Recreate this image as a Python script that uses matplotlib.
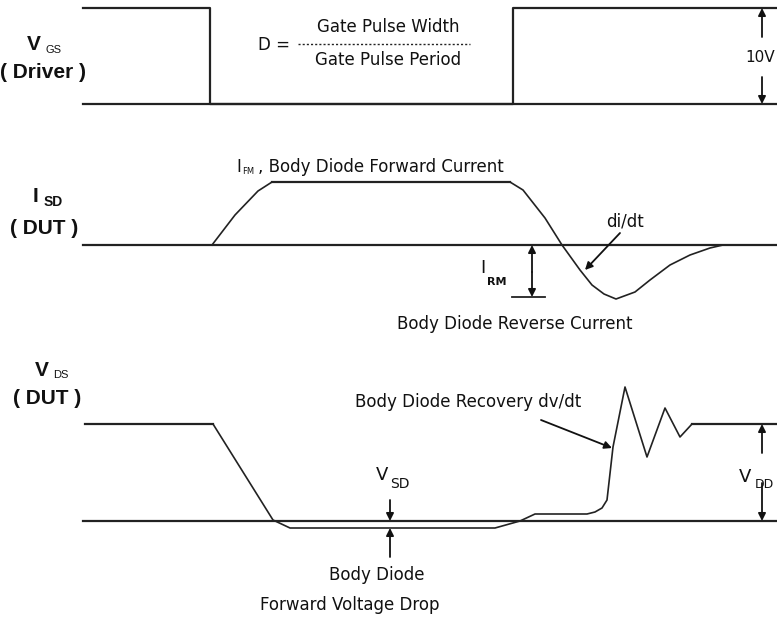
import matplotlib
matplotlib.use("Agg")
import matplotlib.pyplot as plt

# waveform vertices, time in px across, level in px down
vgs_t = [83, 210, 210, 513, 513, 777]
vgs_v = [8, 8, 104, 104, 8, 8]

isd_t = [212, 235, 258, 272, 510, 523, 545, 562, 580, 592, 604, 616, 635, 650, 670, 690, 710, 723]
isd_v = [245, 215, 191, 182, 182, 190, 218, 245, 270, 285, 294, 299, 292, 280, 265, 255, 248, 245]

vds_t = [85, 213, 273, 290, 495, 520, 535, 587, 595, 602, 607, 613, 625, 647, 665, 680, 692, 777]
vds_v = [424, 424, 520, 528, 528, 521, 514, 514, 512, 508, 500, 447, 387, 457, 408, 437, 424, 424]

base_y = [104, 245, 521]
base_x0 = 83
base_x1 = 777

fig = plt.figure(figsize=(7.77, 6.18), dpi=100)
ax = fig.add_axes([0, 0, 1, 1])
ax.set_xlim(0, 777)
ax.set_ylim(618, 0)
ax.axis('off')

for y in base_y:
    ax.plot([base_x0, base_x1], [y, y], color='#222222', lw=1.6)

ax.plot(vgs_t, vgs_v, color='#222222', lw=1.6)
ax.plot(isd_t, isd_v, color='#222222', lw=1.2)
ax.plot(isd_t[3:5], isd_v[3:5], color='#222222', lw=1.6)
ax.plot(vds_t, vds_v, color='#222222', lw=1.2)
ax.plot(vds_t[:2], vds_v[:2], color='#222222', lw=1.6)
ax.plot(vds_t[-2:], vds_v[-2:], color='#222222', lw=1.6)

def arrow(x0, y0, x1, y1):
    ax.annotate('', xy=(x1, y1), xytext=(x0, y0),
                arrowprops=dict(arrowstyle='-|>', color='#111111', lw=1.3,
                                mutation_scale=11, shrinkA=0, shrinkB=0))

fs = 12
bf = dict(fontsize=15, fontweight='bold', family='Liberation Sans', color='#111111')
sf = dict(fontsize=8, family='Liberation Sans', color='#111111')
tf = dict(fontsize=fs, family='DejaVu Sans', color='#111111')

# left side labels
ax.text(27, 45, 'V', ha='left', va='center', **bf)
ax.text(45, 50, 'GS', ha='left', va='center', **sf)
ax.text(0, 72, '( Driver )', ha='left', va='center', **bf)

ax.text(33, 196, 'I', ha='left', va='center', **bf)
ax.text(44, 202, 'SD', ha='left', va='center', fontsize=10, fontweight='bold',
        family='Liberation Sans', color='#111111')
ax.text(10, 229, '( DUT )', ha='left', va='center', **bf)

ax.text(35, 371, 'V', ha='left', va='center', **bf)
ax.text(53, 375, 'DS', ha='left', va='center', **sf)
ax.text(13, 398, '( DUT )', ha='left', va='center', **bf)

# duty cycle formula
ax.text(258, 45, 'D =', ha='left', va='center', **tf)
ax.text(388, 27, 'Gate Pulse Width', ha='center', va='center', **tf)
ax.plot([298, 470], [44, 44], color='#222222', lw=1.0, ls=(0, (1.5, 1.5)))
ax.text(388, 60, 'Gate Pulse Period', ha='center', va='center', **tf)

# 10V
arrow(762, 37, 762, 8)
arrow(762, 77, 762, 104)
ax.text(745, 58, '10V', ha='left', va='center', fontsize=11, family='DejaVu Sans',
        color='#111111', bbox=dict(facecolor='white', edgecolor='none', pad=0.5))

# ISD annotations
ax.text(236, 167, 'I', ha='left', va='center', **tf)
ax.text(242, 171, 'FM', ha='left', va='center', fontsize=6, color='#111111')
ax.text(258, 167, ', Body Diode Forward Current', ha='left', va='center', **tf)
ax.text(606, 221, 'di/dt', ha='left', va='center', **tf)
arrow(620, 233, 585, 270)
arrow(532, 272, 532, 245)
arrow(532, 272, 532, 297)
ax.plot([512, 545], [297, 297], color='#222222', lw=1.3)
ax.text(480, 268, 'I', ha='left', va='center', fontsize=13, color='#111111')
ax.text(487, 282, 'RM', ha='left', va='center', fontsize=8, fontweight='bold', color='#111111')
ax.text(397, 324, 'Body Diode Reverse Current', ha='left', va='center', **tf)

# VDS annotations
ax.text(355, 402, 'Body Diode Recovery dv/dt', ha='left', va='center', **tf)
arrow(541, 420, 612, 448)
arrow(762, 453, 762, 424)
arrow(762, 483, 762, 521)
ax.text(739, 477, 'V', ha='left', va='center', fontsize=13, color='#111111')
ax.text(755, 485, 'DD', ha='left', va='center', fontsize=9, color='#111111')
ax.text(376, 475, 'V', ha='left', va='center', fontsize=13, color='#111111')
ax.text(390, 484, 'SD', ha='left', va='center', fontsize=10, color='#111111')
arrow(390, 500, 390, 521)
arrow(390, 557, 390, 528)
ax.text(377, 575, 'Body Diode', ha='center', va='center', **tf)
ax.text(350, 605, 'Forward Voltage Drop', ha='center', va='center', **tf)

fig.savefig('out.png', dpi=100)
